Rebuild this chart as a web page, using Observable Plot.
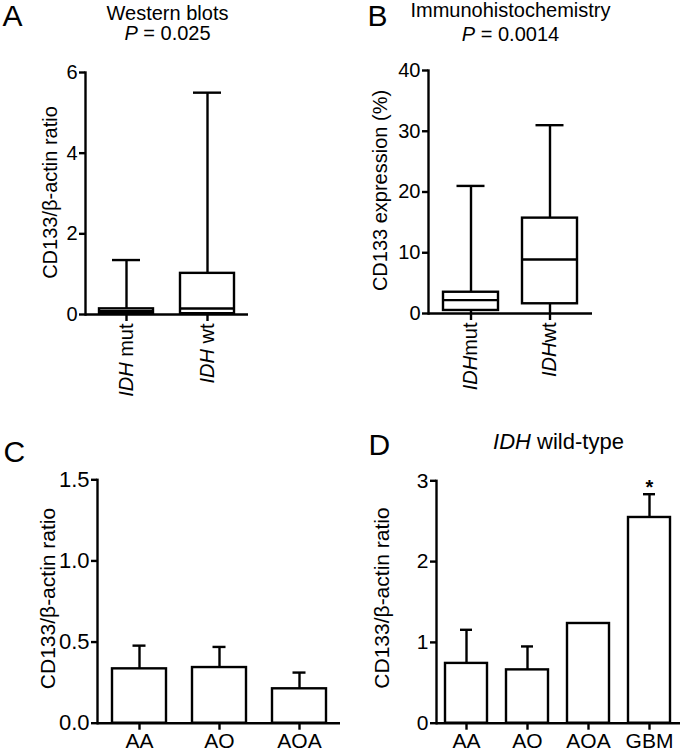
<!DOCTYPE html>
<html>
<head>
<meta charset="utf-8">
<script src="https://cdn.jsdelivr.net/npm/d3@7"></script>
<script src="https://cdn.jsdelivr.net/npm/@observablehq/plot@0.6"></script>
<style>
  html, body { margin: 0; padding: 0; background: white; }
  #wrap { position: relative; width: 680px; height: 752px; overflow: hidden; background: white; }
  .q { position: absolute; }
</style>
</head>
<body>
<div id="wrap">
  <div class="q" id="qC" style="left:0;top:376px"></div>
  <div class="q" id="qD" style="left:340px;top:376px"></div>
  <div class="q" id="qA" style="left:0;top:0"></div>
  <div class="q" id="qB" style="left:340px;top:0"></div>
</div>
<script>
// ---- Panel A: Western blots (box plots) ----
const catsA = ["IDH mut", "IDH wt"];
const minA = [0.01, 0.0];
const q1A = [0.02, 0.02];
const medA = [0.08, 0.15];
const q3A = [0.14, 1.02];
const maxA = [1.35, 5.5];
const ticksA = [0, 2, 4, 6];

// ---- Panel B: Immunohistochemistry (box plots) ----
const catsB = ["IDHmut", "IDHwt"];
const minB = [0, 0];
const q1B = [0.5, 1.6];
const medB = [2.2, 8.9];
const q3B = [3.5, 15.7];
const maxB = [21, 31];
const ticksB = [0, 10, 20, 30, 40];

// ---- Panel C: bars with SEM ----
const catsC = ["AA", "AO", "AOA"];
const meanC = [0.335, 0.343, 0.212];
const semC = [0.143, 0.127, 0.100];
const ticksC = [0, 0.5, 1.0, 1.5];

// ---- Panel D: IDH wild-type bars with SEM ----
const catsD = ["AA", "AO", "AOA", "GBM"];
const meanD = [0.74, 0.66, 1.234, 2.546];
const semD = [0.416, 0.29, 0, 0.288];
const sigD = [false, false, false, true];
const ticksD = [0, 1, 2, 3];

const FONT = "'Liberation Sans', Arial, Helvetica, sans-serif";
const SW = 2.4;

const boxData = (cats, mn, q1, md, q3, mx) =>
  cats.map((c, i) => ({cat: c, min: mn[i], q1: q1[i], med: md[i], q3: q3[i], max: mx[i]}));
const barData = (cats, m, s, sig) =>
  cats.map((c, i) => ({cat: c, mean: m[i], sem: s[i], top: m[i] + s[i], sig: sig ? sig[i] : false}));

function txt(t, x, yb, ml, mt, opts = {}) {
  return Plot.text([t], {text: d => d, frameAnchor: "top-left", dx: x - ml, dy: yb - mt,
    lineAnchor: "bottom", textAnchor: "middle", fontSize: 20, fill: "black", ...opts});
}
function yTitle(t, dx, dy, fs) {
  return Plot.text([t], {text: d => d, frameAnchor: "left", rotate: -90, dx, dy,
    textAnchor: "middle", lineAnchor: "middle", fontSize: fs, fill: "black"});
}

function boxPanel(cfg) {
  const data = boxData(...cfg.arrays);
  return Plot.plot({
    width: 340, height: cfg.height,
    marginLeft: cfg.ml, marginRight: cfg.mr, marginTop: cfg.mt, marginBottom: cfg.mb,
    style: {fontFamily: FONT, background: "transparent", overflow: "visible", color: "black"},
    x: {type: "band", domain: cfg.cats, paddingInner: cfg.pi, paddingOuter: cfg.po},
    y: {domain: [0, cfg.ymax]},
    marks: [
      Plot.ruleX(data, {x: "cat", y1: "q3", y2: "max", stroke: "black", strokeWidth: SW}),
      Plot.ruleX(data, {x: "cat", y1: "min", y2: "q1", stroke: "black", strokeWidth: SW}),
      Plot.tickY(data, {x: "cat", y: "max", insetLeft: cfg.capInset, insetRight: cfg.capInset, stroke: "black", strokeWidth: SW}),
      Plot.barY(data, {x: "cat", y1: "q1", y2: "q3", fill: "white", stroke: "black", strokeWidth: SW}),
      Plot.tickY(data, {x: "cat", y: "med", stroke: "black", strokeWidth: SW}),
      Plot.axisY({ticks: cfg.ticks, tickSize: 6, tickPadding: 2, fontSize: 20, strokeWidth: SW, label: null, tickFormat: d3.format("d")}),
      Plot.axisX({tickSize: 7, tickPadding: 2, tickRotate: -90, fontSize: 20, strokeWidth: SW, label: null}),
      Plot.ruleY([0], {stroke: "black", strokeWidth: SW}),
      Plot.frame({anchor: "left", stroke: "black", strokeWidth: SW}),
      ...cfg.extra
    ]
  });
}

function barPanel(cfg) {
  const data = barData(cfg.cats, cfg.mean, cfg.sem, cfg.sig);
  const withErr = data.filter(d => d.sem > 0);
  return Plot.plot({
    width: 340, height: 376,
    marginLeft: cfg.ml, marginRight: cfg.mr, marginTop: cfg.mt, marginBottom: cfg.mb,
    style: {fontFamily: FONT, background: "transparent", overflow: "visible", color: "black"},
    x: {type: "band", domain: cfg.cats, paddingInner: cfg.pi, paddingOuter: cfg.po},
    y: {domain: [0, cfg.ymax]},
    marks: [
      Plot.ruleX(withErr, {x: "cat", y1: "mean", y2: "top", stroke: "black", strokeWidth: SW}),
      Plot.tickY(withErr, {x: "cat", y: "top", insetLeft: cfg.capInset, insetRight: cfg.capInset, stroke: "black", strokeWidth: SW}),
      Plot.barY(data, {x: "cat", y: "mean", fill: "white", stroke: "black", strokeWidth: SW}),
      Plot.text(data.filter(d => d.sig), {x: "cat", y: "top", text: () => "*", lineAnchor: "bottom", fontSize: 20, fontWeight: "bold", fill: "black"}),
      Plot.axisY({ticks: cfg.ticks, tickSize: 6, tickPadding: 2, fontSize: cfg.yfs, strokeWidth: SW, label: null, tickFormat: cfg.fmt}),
      Plot.axisX({tickSize: 7, tickPadding: 3, fontSize: 21, strokeWidth: SW, label: null}),
      Plot.ruleY([0], {stroke: "black", strokeWidth: SW}),
      Plot.frame({anchor: "left", stroke: "black", strokeWidth: SW}),
      ...cfg.extra
    ]
  });
}

function italicize(svg) {
  svg.querySelectorAll("text").forEach(t => {
    if (t.children.length) return;
    const s = t.textContent;
    let head = null;
    if (s.startsWith("IDH")) head = "IDH";
    else if (s.startsWith("P =")) head = "P";
    if (!head) return;
    const rest = s.slice(head.length);
    t.textContent = "";
    const a = document.createElementNS("http://www.w3.org/2000/svg", "tspan");
    a.setAttribute("font-style", "italic");
    a.textContent = head;
    t.appendChild(a);
    t.appendChild(document.createTextNode(rest));
  });
}

// Panel A
const mlA = 85, mtA = 72;
const plotA = boxPanel({
  height: 400, ml: mlA, mr: 92, mt: mtA, mb: 86, cats: catsA, pi: 0.333, po: 0.17,
  ymax: 6, ticks: ticksA, capInset: 13,
  arrays: [catsA, minA, q1A, medA, q3A, maxA],
  extra: [
    txt("A", 2, 25, mlA, mtA, {textAnchor: "start", fontSize: 30}),
    txt("Western blots", 167, 19, mlA, mtA),
    txt("P = 0.025", 167, 39.5, mlA, mtA),
    yTitle("CD133/β-actin ratio", -35, -1, 20)
  ]
});

// Panel B
const mlB = 88, mtB = 70;
const plotB = boxPanel({
  height: 400, ml: mlB, mr: 88, mt: mtB, mb: 87, cats: catsB, pi: 0.31, po: 0.19,
  ymax: 40, ticks: ticksB, capInset: 13.5,
  arrays: [catsB, minB, q1B, medB, q3B, maxB],
  extra: [
    txt("B", 27, 25, mlB, mtB, {textAnchor: "start", fontSize: 30}),
    txt("Immunohistochemistry", 170, 16, mlB, mtB),
    txt("P = 0.0014", 170, 40.5, mlB, mtB),
    yTitle("CD133 expression (%)", -48, -1.5, 20)
  ]
});

// Panel C
const mlC = 97, mtC = 103.3;
const plotC = barPanel({
  ml: mlC, mr: 0, mt: mtC, mb: 29.3, cats: catsC, mean: meanC, sem: semC,
  pi: 0.325, po: 0.172, ymax: 1.5, ticks: ticksC, fmt: d3.format(".1f"), yfs: 22, capInset: 20.5,
  extra: [
    txt("C", 3, 85, mlC, mtC, {textAnchor: "start", fontSize: 30}),
    yTitle("CD133/β-actin ratio", -49, -3, 21)
  ]
});

// Panel D
const mlD = 96, mtD = 104.3;
const plotD = barPanel({
  ml: mlD, mr: 0, mt: mtD, mb: 29.3, cats: catsD, mean: meanD, sem: semD, sig: sigD,
  pi: 0.31, po: 0.148, ymax: 3, ticks: ticksD, fmt: d3.format("d"), yfs: 21, capInset: 15,
  extra: [
    txt("D", 28, 78, mlD, mtD, {textAnchor: "start", fontSize: 30}),
    txt("IDH wild-type", 218, 72, mlD, mtD, {fontSize: 22}),
    yTitle("CD133/β-actin ratio", -54, -4, 21)
  ]
});

[[plotA, "qA"], [plotB, "qB"], [plotC, "qC"], [plotD, "qD"]].forEach(([p, id]) => {
  italicize(p);
  document.getElementById(id).appendChild(p);
});
</script>
</body>
</html>
